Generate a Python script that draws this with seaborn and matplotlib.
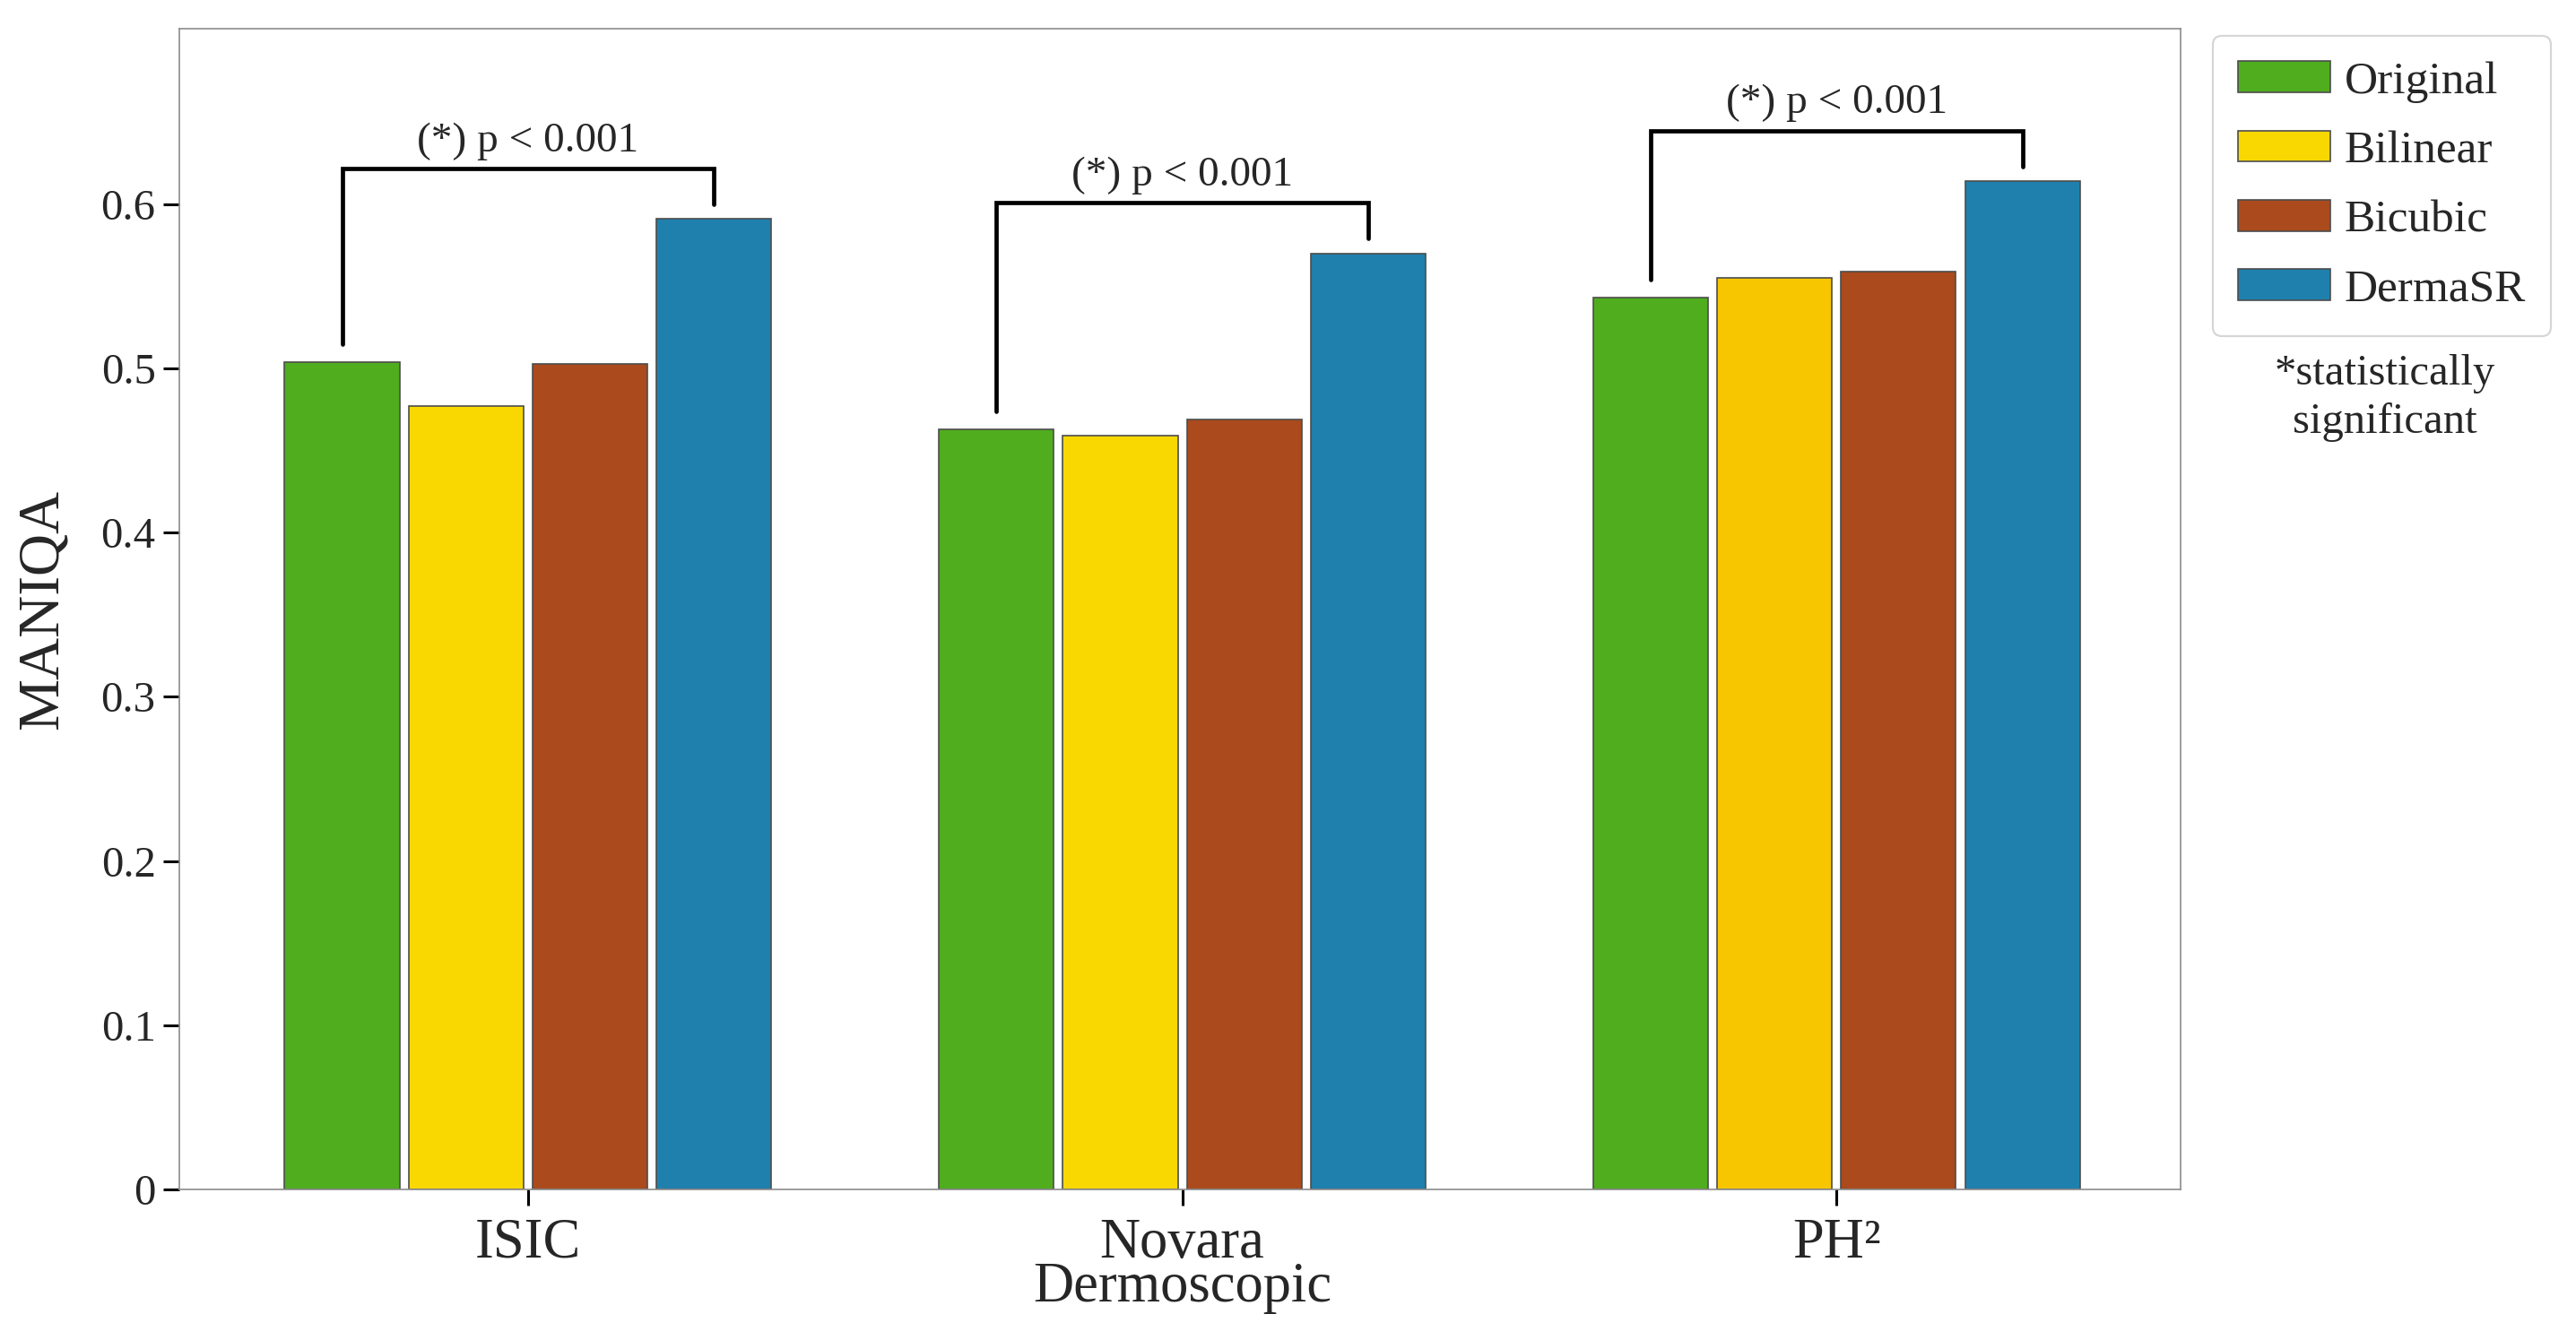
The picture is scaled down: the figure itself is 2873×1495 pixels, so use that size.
import matplotlib
matplotlib.use("Agg")
import matplotlib.pyplot as plt
import seaborn as sns
import pandas as pd
import numpy as np

# Data
datasets = ["ISIC", "Novara\nDermoscopic", "PH\u00b2"]
methods = ["Original", "Bilinear", "Bicubic", "DermaSR"]
original = [0.504, 0.463, 0.543]
bilinear = [0.477, 0.459, 0.555]
bicubic = [0.503, 0.469, 0.559]
dermasr = [0.591, 0.570, 0.614]
p_text = ["(*) p < 0.001", "(*) p < 0.001", "(*) p < 0.001"]
yticks = [0, 0.1, 0.2, 0.3, 0.4, 0.5, 0.6]
ytick_labels = ["0", "0.1", "0.2", "0.3", "0.4", "0.5", "0.6"]

colors = ["#4FAD1E", "#F8D800", "#AA4A1D", "#1F80AD"]

df = pd.DataFrame({
    "dataset": np.repeat(datasets, len(methods)),
    "method": methods * len(datasets),
    "maniqa": np.column_stack([original, bilinear, bicubic, dermasr]).ravel(),
})

sns.set_theme(style="ticks")
plt.rcParams["font.family"] = ["Liberation Serif", "DejaVu Serif"]

dpi = 200
fig = plt.figure(figsize=(2873 / dpi, 1495 / dpi), dpi=dpi)
ax = fig.add_axes([200 / 2873, 1 - 1327 / 1495, 2232 / 2873, 1295 / 1495])

sns.barplot(data=df, x="dataset", y="maniqa", hue="method", order=datasets,
            hue_order=methods, palette=colors, width=0.758, gap=0.073,
            edgecolor="#4d4d4d", linewidth=0.6, saturation=1, ax=ax)

# the PH2 bilinear bar is a slightly more orange yellow in the original
ax.containers[1][2].set_facecolor("#F8C600")

ax.set_xlim(-0.533, 2.526)
ax.set_ylim(0, 0.707)
ax.set_yticks(yticks)
ax.set_yticklabels(ytick_labels)
ax.set_xlabel("")
ax.set_ylabel("MANIQA", fontsize=23.5)
ax.yaxis.set_label_coords(-0.055, 0.5)

ax.tick_params(axis="y", direction="out", length=6.5, width=1.1, color="black",
               labelsize=17.5, pad=3)
ax.tick_params(axis="x", direction="out", length=6.5, width=1.1, color="black",
               labelsize=22.5, pad=5)
for lab in ax.get_xticklabels():
    lab.set_linespacing(0.8)
    lab.set_verticalalignment("top")

for sp in ax.spines.values():
    sp.set_color("#8c8c8c")
    sp.set_linewidth(0.6)

# significance brackets between Original and DermaSR
for i in range(len(datasets)):
    left = ax.containers[0][i]
    right = ax.containers[3][i]
    x1 = left.get_x() + left.get_width() / 2
    x2 = right.get_x() + right.get_width() / 2
    y1 = left.get_height() + 0.011
    y2 = right.get_height() + 0.009
    top = right.get_height() + 0.031
    ax.plot([x1, x1, x2, x2], [y1, top, top, y2], color="black", lw=1.7,
            solid_joinstyle="miter", clip_on=False)
    ax.text((x1 + x2) / 2, top + 0.005, p_text[i], ha="center", va="bottom",
            fontsize=17)

# legend outside the axes
handles, labels = ax.get_legend_handles_labels()
ax.get_legend().remove()
leg = fig.legend(handles, labels, loc="upper left",
                 bbox_to_anchor=(2468 / 2873, 1 - 40 / 1495),
                 borderaxespad=0, fontsize=18.5, handlelength=2.0,
                 handleheight=0.66, handletextpad=0.3, labelspacing=0.6,
                 borderpad=0.55, frameon=True, fancybox=True)
leg.get_frame().set_edgecolor("#cccccc")
leg.get_frame().set_linewidth(0.8)

fig.text(2660 / 2873, 1 - 444 / 1495, "*statistically\nsignificant",
         ha="center", va="center", fontsize=17.5, linespacing=1.3)

fig.savefig("out.png", dpi=dpi)
